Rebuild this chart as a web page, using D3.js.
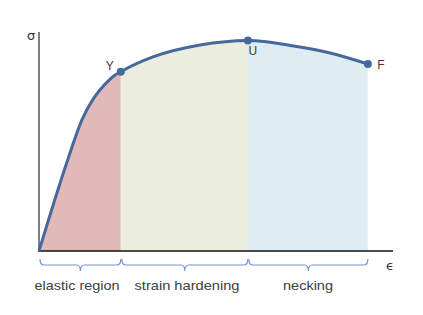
<!DOCTYPE html>
<html>
<head>
<meta charset="utf-8">
<script src="https://cdn.jsdelivr.net/npm/d3@7"></script>
<style>
  body { margin: 0; background: #fff; }
  svg { display: block; }
</style>
</head>
<body>
<div id="chart"></div>
<script>
// stress-strain curve, strain / stress in arbitrary units (0..100)
var strain = [0, 8.1, 12.1, 15.1, 17.2, 19.8, 21.5, 23.1, 32.2, 45.5, 59.0, 73.7, 82.2, 92.9];
var stress = [0, 41.4, 59.5, 68.6, 73.2, 77.7, 80.0, 81.5, 88.2, 93.6, 95.7, 92.7, 90.0, 85.0];

// marked points
var pointNames = ["Y", "U", "F"];
var pointStrain = [23.1, 59.0, 92.9];
var pointStress = [81.5, 95.7, 85.0];

// regions between points
var regionNames = ["elastic region", "strain hardening", "necking"];
var regionStart = [0, 23.1, 59.0];
var regionEnd = [23.1, 59.0, 92.9];
var regionColors = ["#e0b9b9", "#ebeedf", "#deedf2"];

var width = 423, height = 315;

var svg = d3.select("#chart").append("svg")
    .attr("width", width)
    .attr("height", height);

var x = d3.scaleLinear().domain([0, 100]).range([39, 393]);
var y = d3.scaleLinear().domain([0, 100]).range([251, 31]);

var data = strain.map(function(s, i) { return { s: s, v: stress[i] }; });

var area = d3.area()
    .x(d => x(d.s))
    .y0(y(0))
    .y1(d => y(d.v))
    .curve(d3.curveMonotoneX);

var line = d3.line()
    .x(d => x(d.s))
    .y(d => y(d.v))
    .curve(d3.curveMonotoneX);

var defs = svg.append("defs");
regionNames.forEach(function(name, i) {
  defs.append("clipPath").attr("id", "clip" + i)
    .append("rect")
      .attr("x", x(regionStart[i]))
      .attr("y", 0)
      .attr("width", x(regionEnd[i]) - x(regionStart[i]))
      .attr("height", height);
});

// shaded regions under the curve
svg.append("g").selectAll("path")
  .data(regionNames)
  .enter().append("path")
    .attr("d", area(data))
    .attr("fill", (d, i) => regionColors[i])
    .attr("clip-path", (d, i) => "url(#clip" + i + ")");

// axes (plain lines, no ticks)
svg.append("line")
    .attr("x1", x(0)).attr("x2", x(0))
    .attr("y1", 32).attr("y2", y(0))
    .attr("stroke", "#808080")
    .attr("stroke-width", 2);

svg.append("line")
    .attr("x1", x(0) - 1).attr("x2", x(100))
    .attr("y1", y(0)).attr("y2", y(0))
    .attr("stroke", "#111")
    .attr("stroke-width", 1.5);

svg.append("text")
    .attr("x", 27).attr("y", 40)
    .attr("font-family", "DejaVu Sans")
    .attr("font-size", 13)
    .attr("fill", "#333")
    .text("σ");

svg.append("text")
    .attr("x", 386).attr("y", 270)
    .attr("font-family", "DejaVu Sans")
    .attr("font-size", 13)
    .attr("fill", "#333")
    .text("ϵ");

// curve
svg.append("path")
    .attr("d", line(data))
    .attr("fill", "none")
    .attr("stroke", "#46689c")
    .attr("stroke-width", 3);

svg.append("g").selectAll("circle")
  .data(pointNames)
  .enter().append("circle")
    .attr("cx", (d, i) => x(pointStrain[i]))
    .attr("cy", (d, i) => y(pointStress[i]))
    .attr("r", 4)
    .attr("fill", "#46689c");

var labelDx = [-11, 5, 13];
var labelDy = [-2, 15, 5];
svg.append("g").selectAll("text")
  .data(pointNames)
  .enter().append("text")
    .attr("x", (d, i) => x(pointStrain[i]) + labelDx[i])
    .attr("y", (d, i) => y(pointStress[i]) + labelDy[i])
    .attr("text-anchor", "middle")
    .attr("font-family", "Liberation Sans")
    .attr("font-size", 12)
    .attr("fill", "#3a3a3a")
    .text(d => d);

// curly braces under the axis
function brace(x1, x2) {
  var y0 = 259, y1 = 265, y2 = 271, r = 4, m = (x1 + x2) / 2;
  return "M" + x1 + "," + y0 +
    "Q" + x1 + "," + y1 + " " + (x1 + r) + "," + y1 +
    "L" + (m - r) + "," + y1 +
    "Q" + m + "," + y1 + " " + m + "," + y2 +
    "Q" + m + "," + y1 + " " + (m + r) + "," + y1 +
    "L" + (x2 - r) + "," + y1 +
    "Q" + x2 + "," + y1 + " " + x2 + "," + y0;
}

svg.append("g").selectAll("path")
  .data(regionNames)
  .enter().append("path")
    .attr("d", (d, i) => brace(x(regionStart[i]) + 1, x(regionEnd[i])))
    .attr("fill", "none")
    .attr("stroke", "#7495d2")
    .attr("stroke-width", 1.2);

var labelWidths = [85, 105, 50];
var labelCenters = [77, 187, 308];
svg.append("g").selectAll("text")
  .data(regionNames)
  .enter().append("text")
    .attr("x", (d, i) => labelCenters[i])
    .attr("y", 290)
    .attr("text-anchor", "middle")
    .attr("font-family", "Liberation Sans")
    .attr("font-size", 13)
    .attr("textLength", (d, i) => labelWidths[i])
    .attr("lengthAdjust", "spacingAndGlyphs")
    .attr("fill", "#404040")
    .text(d => d);
</script>
</body>
</html>
